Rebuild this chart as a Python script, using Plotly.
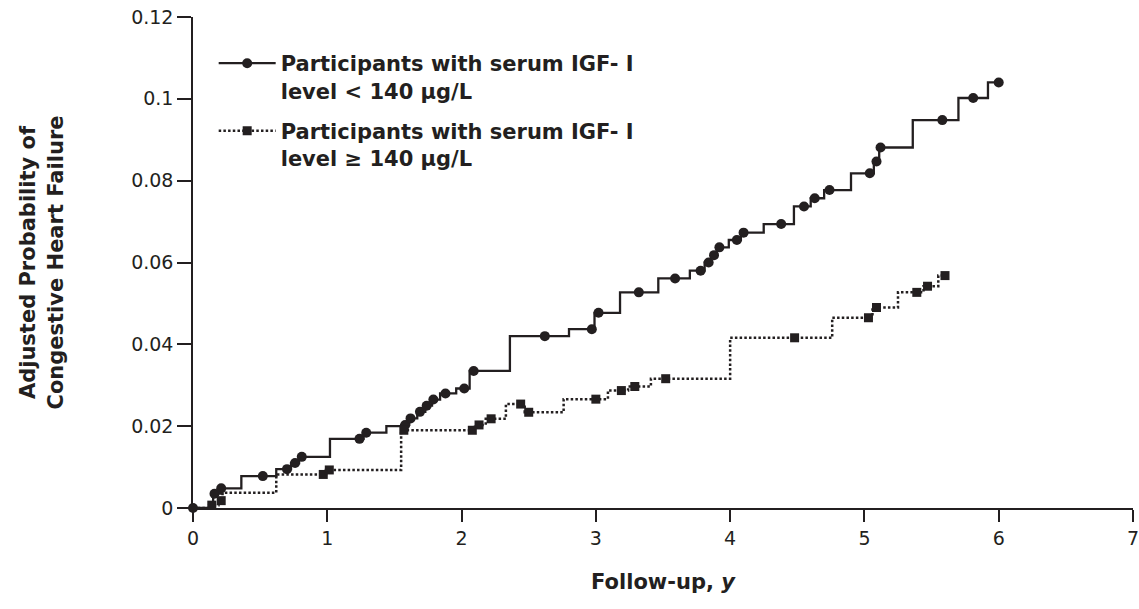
import plotly.graph_objects as go

# ---- data ----
low_step_t = [0, 0.15, 0.21, 0.36, 0.62, 0.73, 0.79, 1.02, 1.27, 1.44, 1.55, 1.61, 1.67, 1.73,
              1.78, 1.84, 1.96, 2.06, 2.36, 2.80, 2.99, 3.18, 3.465, 3.70, 3.81, 3.86, 3.90,
              3.99, 4.08, 4.25, 4.475, 4.60, 4.70, 4.90, 5.07, 5.11, 5.36, 5.70, 5.92, 6.00]
low_step_p = [0, 0.0035, 0.0048, 0.0078, 0.0095, 0.0110, 0.0125, 0.0169, 0.0184, 0.0200,
              0.0203, 0.0219, 0.0235, 0.0250, 0.0265, 0.0280, 0.0292, 0.0335, 0.0420, 0.0437,
              0.0477, 0.0527, 0.0561, 0.0580, 0.0600, 0.0618, 0.0637, 0.0655, 0.0673, 0.0694,
              0.0737, 0.0757, 0.0777, 0.0818, 0.0847, 0.0881, 0.0948, 0.1002, 0.1040, 0.1040]
low_cens_t = [0, 0.16, 0.21, 0.52, 0.70, 0.76, 0.81, 1.24, 1.29, 1.58, 1.62, 1.69, 1.74, 1.79,
              1.88, 2.02, 2.09, 2.62, 2.97, 3.02, 3.32, 3.59, 3.78, 3.84, 3.88, 3.92, 4.05,
              4.10, 4.38, 4.55, 4.63, 4.74, 5.04, 5.09, 5.12, 5.58, 5.81, 6.00]
low_cens_p = [0, 0.0035, 0.0048, 0.0078, 0.0095, 0.0110, 0.0125, 0.0169, 0.0184, 0.0203,
              0.0219, 0.0235, 0.0250, 0.0265, 0.0280, 0.0292, 0.0335, 0.0420, 0.0437, 0.0477,
              0.0527, 0.0561, 0.0580, 0.0600, 0.0618, 0.0637, 0.0655, 0.0673, 0.0694, 0.0737,
              0.0757, 0.0777, 0.0818, 0.0847, 0.0881, 0.0948, 0.1002, 0.1040]

high_step_t = [0, 0.12, 0.19, 0.22, 0.62, 0.99, 1.55, 2.10, 2.18, 2.33, 2.47, 2.76, 3.09,
               3.24, 3.41, 4.00, 4.76, 5.06, 5.25, 5.44, 5.55, 5.60]
high_step_p = [0, 0.0007, 0.0018, 0.0037, 0.0082, 0.0093, 0.0190, 0.0203, 0.0218, 0.0254,
               0.0234, 0.0266, 0.0287, 0.0297, 0.0316, 0.0416, 0.0465, 0.0490, 0.0527, 0.0542,
               0.0568, 0.0568]
high_cens_t = [0.14, 0.21, 0.97, 1.015, 1.57, 2.08, 2.13, 2.22, 2.44, 2.50, 3.00, 3.19, 3.29,
               3.52, 4.48, 5.03, 5.09, 5.39, 5.47, 5.60]
high_cens_p = [0.0007, 0.0018, 0.0082, 0.0093, 0.0190, 0.0190, 0.0203, 0.0218, 0.0254, 0.0234,
               0.0266, 0.0287, 0.0297, 0.0316, 0.0416, 0.0465, 0.0490, 0.0527, 0.0542, 0.0568]

x_ticks = [0, 1, 2, 3, 4, 5, 6, 7]
y_ticks = [0, 0.02, 0.04, 0.06, 0.08, 0.10, 0.12]
y_ticktext = ["0", "0.02", "0.04", "0.06", "0.08", "0.1", "0.12"]

name_low = "<b>Participants with serum IGF- I<br>level < 140 \u03bcg/L</b>"
name_high = "<b>Participants with serum IGF- I<br>level \u2265 140 \u03bcg/L</b>"

INK = "#231f20"
FONT = "DejaVu Sans"
DOT = "2.5px,2.2px"

fig = go.Figure()
fig.add_trace(go.Scatter(x=low_step_t, y=low_step_p, mode="lines", line_shape="hv",
                         line=dict(color=INK, width=2.3), showlegend=False, hoverinfo="skip"))
fig.add_trace(go.Scatter(x=low_cens_t, y=low_cens_p, mode="markers", cliponaxis=False,
                         marker=dict(symbol="circle", size=10, color=INK), showlegend=False))
fig.add_trace(go.Scatter(x=high_step_t, y=high_step_p, mode="lines", line_shape="hv",
                         line=dict(color=INK, width=2.5, dash=DOT),
                         showlegend=False, hoverinfo="skip"))
fig.add_trace(go.Scatter(x=high_cens_t, y=high_cens_p, mode="markers", cliponaxis=False,
                         marker=dict(symbol="square", size=9, color=INK), showlegend=False))
# legend entries
fig.add_trace(go.Scatter(x=[None], y=[None], mode="lines+markers", name=name_low,
                         legendgroup="low",
                         line=dict(color=INK, width=2.3),
                         marker=dict(symbol="circle", size=10, color=INK)))
fig.add_trace(go.Scatter(x=[None], y=[None], mode="lines+markers", name=name_high,
                         legendgroup="high",
                         line=dict(color=INK, width=2.5, dash=DOT),
                         marker=dict(symbol="square", size=9, color=INK)))

fig.update_layout(
    width=1139, height=609,
    margin=dict(l=193, r=6, t=17, b=101, autoexpand=False),
    plot_bgcolor="white", paper_bgcolor="white",
    font=dict(family=FONT, color=INK),
    legend=dict(x=0.022, y=0.947, xanchor="left", yanchor="top", bgcolor="rgba(0,0,0,0)",
                font=dict(family=FONT, size=21, color=INK), itemwidth=57,
                traceorder="grouped", tracegroupgap=10, valign="top"),
    xaxis=dict(range=[0, 7], tickvals=x_ticks, showline=True, linecolor=INK, linewidth=1.5,
               ticks="outside", ticklen=12, tickwidth=1.5, tickcolor=INK, showgrid=False,
               zeroline=False, tickfont=dict(size=19, family=FONT, color=INK),
               ticklabeloverflow="allow", automargin=False,
               title=dict(text="<b>Follow-up, <i>y</i></b>", standoff=27,
                          font=dict(size=21, family=FONT, color=INK))),
    yaxis=dict(range=[0, 0.12], tickvals=y_ticks, ticktext=y_ticktext, showline=True,
               linecolor=INK, linewidth=1.5, ticks="outside", ticklen=14, tickwidth=1.5,
               tickcolor=INK, showgrid=False, zeroline=False, automargin=False,
               tickfont=dict(size=19, family=FONT, color=INK),
               title=dict(text="<b>Adjusted Probability of<br>Congestive Heart Failure</b>",
                          standoff=62, font=dict(size=21, family=FONT, color=INK))),
)

fig.write_html("out.html")
